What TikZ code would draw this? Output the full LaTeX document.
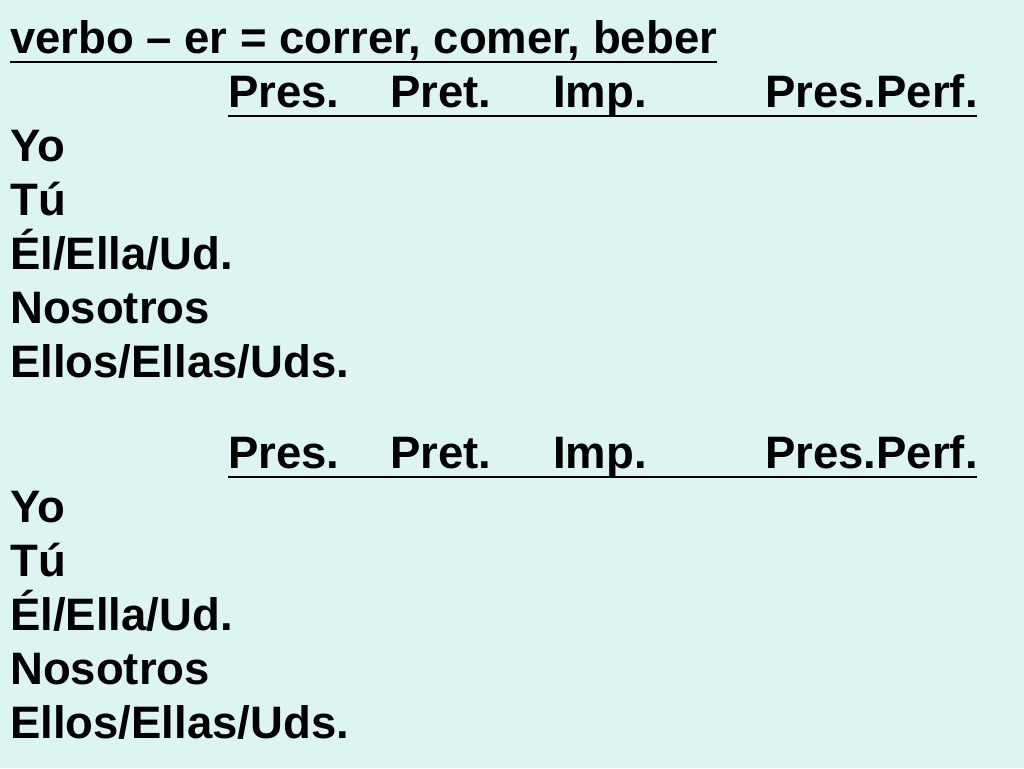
\documentclass[tikz,border=0pt]{standalone}
\usepackage{fontspec}
\setmainfont{Liberation Sans}
\begin{document}
\begin{tikzpicture}[x=1pt,y=-1pt,
  txt/.style={anchor=base west,inner sep=0pt,font=\fontsize{45.5}{50}\selectfont\bfseries},
  uline/.style={line width=2.6pt}]
\definecolor{bg}{RGB}{221,245,242}
\fill[bg] (0,0) rectangle (1024,768);
\useasboundingbox (0,0) rectangle (1024,768);
\node[txt] (title) at (10,53) {verbo – er = correr, comer, beber};
\draw[uline] (10,62) -- (717,62);
\foreach \o/\n in {0/a,361/b}{
  \node[txt] (pres\n) at (228,107+\o) {Pres.};
  \node[txt] (pret\n) at (390,107+\o) {Pret.};
  \node[txt] (imp\n) at (553,107+\o) {Imp.};
  \node[txt] (pp\n) at (765,107+\o) {Pres.Perf.};
  \draw[uline] (228,116+\o) -- (977,116+\o);
  \node[txt] (yo\n) at (10,161+\o) {Yo};
  \node[txt] (tu\n) at (10,215+\o) {Tú};
  \node[txt] (el\n) at (10,269+\o) {Él/Ella/Ud.};
  \node[txt] (nos\n) at (10,323+\o) {Nosotros};
  \node[txt] (ellos\n) at (10,377+\o) {Ellos/Ellas/Uds.};
}
\end{tikzpicture}
\end{document}
